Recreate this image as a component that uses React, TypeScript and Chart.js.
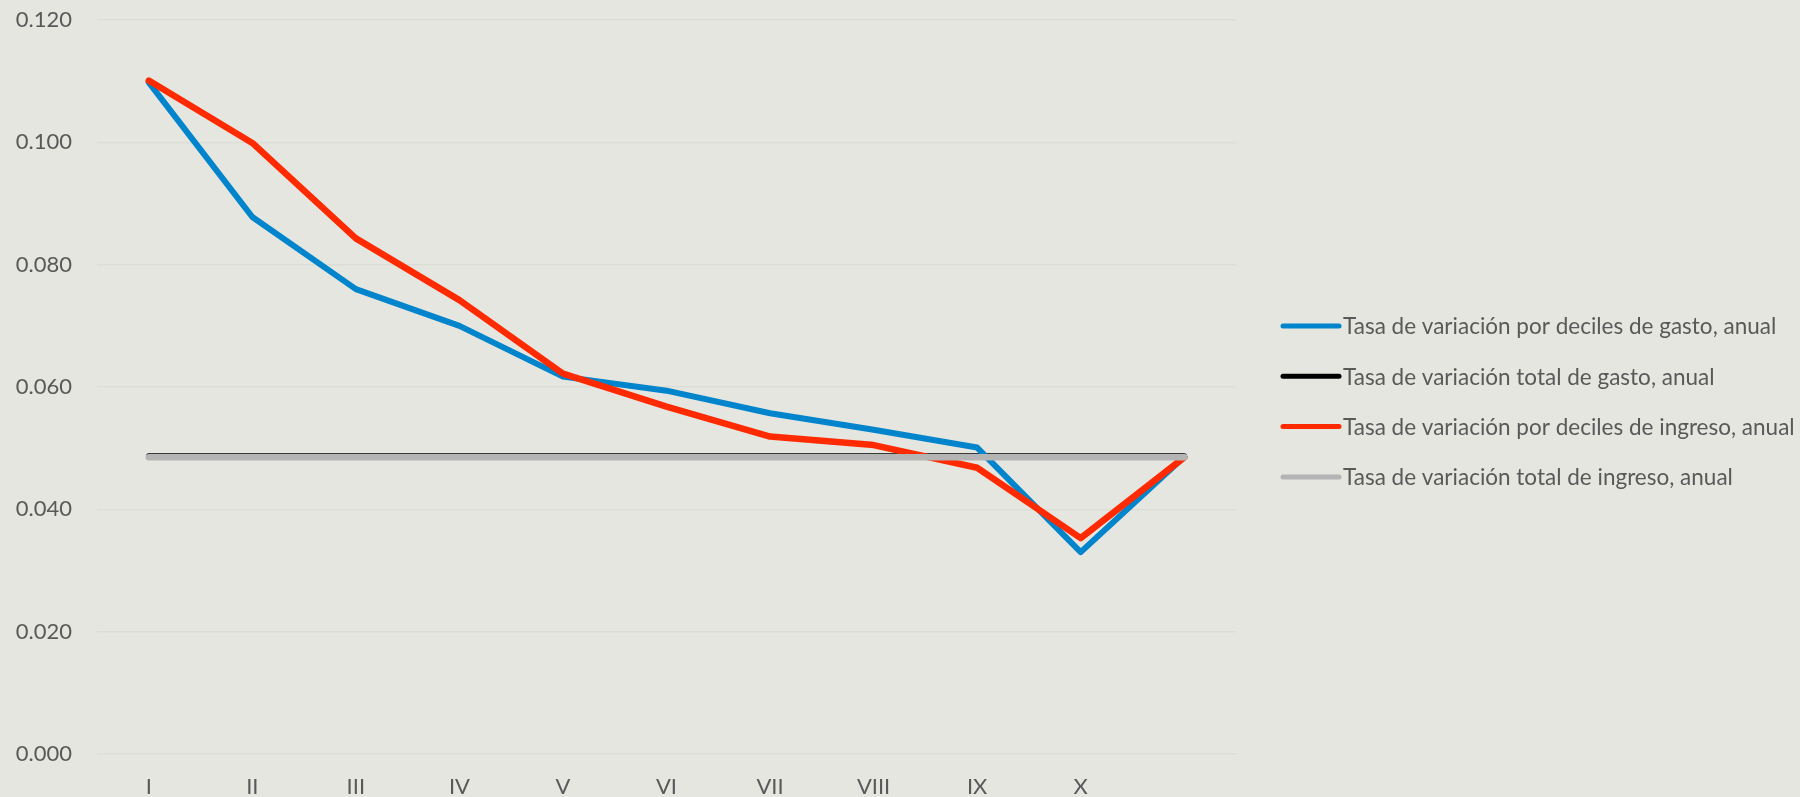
import React, { useEffect, useRef } from "react";
import { Chart, registerables } from "chart.js";

Chart.register(...registerables);

const categories = ["I", "II", "III", "IV", "V", "VI", "VII", "VIII", "IX", "X", ""];

const gastoDeciles = [0.1098, 0.0878, 0.076, 0.07, 0.0617, 0.0594, 0.0557, 0.053, 0.0501, 0.033, 0.0486];
const gastoTotal = [0.0487, 0.0487, 0.0487, 0.0487, 0.0487, 0.0487, 0.0487, 0.0487, 0.0487, 0.0487, 0.0487];
const ingresoDeciles = [0.1101, 0.0999, 0.0843, 0.0742, 0.0622, 0.0568, 0.0519, 0.0505, 0.0468, 0.0353, 0.0485];
const ingresoTotal = [0.0485, 0.0485, 0.0485, 0.0485, 0.0485, 0.0485, 0.0485, 0.0485, 0.0485, 0.0485, 0.0485];

const seriesLabels = [
  "Tasa de variación por deciles de gasto, anual",
  "Tasa de variación total de gasto, anual",
  "Tasa de variación por deciles de ingreso, anual",
  "Tasa de variación total de ingreso, anual",
];

const yMin = 0;
const yMax = 0.12;
const yStep = 0.02;

const BG = "#E5E6E0";
const TEXT = "#595959";
const FONT = "Lato";

const legendPlugin = {
  id: "customLegend",
  afterDraw(chart: any) {
    const ctx = chart.ctx as CanvasRenderingContext2D;
    const area = chart.chartArea;
    const x0 = area.right + 47;
    const x1 = x0 + 56;
    const startY = area.top + 306;
    const gap = 50.3;
    ctx.save();
    chart.data.datasets.forEach((ds: any, i: number) => {
      const y = startY + i * gap;
      ctx.beginPath();
      ctx.strokeStyle = ds.borderColor;
      ctx.lineWidth = 5;
      ctx.lineCap = "round";
      ctx.moveTo(x0, y);
      ctx.lineTo(x1, y);
      ctx.stroke();
      ctx.fillStyle = TEXT;
      ctx.font = `22.5px ${FONT}`;
      ctx.textBaseline = "middle";
      ctx.textAlign = "left";
      ctx.fillText(ds.label, x1 + 4, y + 1);
    });
    ctx.restore();
  },
};

export default function App() {
  const canvasRef = useRef<HTMLCanvasElement | null>(null);

  useEffect(() => {
    if (!canvasRef.current) return;
    const chart = new Chart(canvasRef.current, {
      type: "line",
      data: {
        labels: categories,
        datasets: [
          {
            label: seriesLabels[0],
            data: gastoDeciles,
            borderColor: "#0084CC",
            borderWidth: 6,
            order: 2,
          },
          {
            label: seriesLabels[1],
            data: gastoTotal,
            borderColor: "#000000",
            borderWidth: 5.5,
            order: 3,
          },
          {
            label: seriesLabels[2],
            data: ingresoDeciles,
            borderColor: "#FF2A00",
            borderWidth: 6.5,
            order: 1,
          },
          {
            label: seriesLabels[3],
            data: ingresoTotal,
            borderColor: "#B4B4B4",
            borderWidth: 6.5,
            order: 0,
          },
        ],
      },
      options: {
        animation: false,
        responsive: true,
        maintainAspectRatio: false,
        elements: {
          point: { radius: 0, hoverRadius: 0 },
          line: { tension: 0, borderJoinStyle: "round", borderCapStyle: "round", fill: false },
        },
        layout: { padding: { top: 0, right: 564, left: 0, bottom: 0 } },
        plugins: {
          legend: { display: false },
          tooltip: { enabled: false },
          title: { display: false },
        },
        scales: {
          x: {
            offset: true,
            grid: { display: false, drawTicks: false },
            border: { display: false },
            ticks: {
              color: TEXT,
              font: { family: FONT, size: 22 },
              padding: 20,
              maxRotation: 0,
              autoSkip: false,
            },
            afterFit: (scale: any) => {
              scale.height = 43;
            },
          },
          y: {
            min: yMin,
            max: yMax,
            grid: { color: "#DCDDD7", lineWidth: 1.5, drawTicks: false },
            border: { display: false },
            ticks: {
              stepSize: yStep,
              color: TEXT,
              font: { family: FONT, size: 22 },
              padding: 25,
              callback: (v: any) => Number(v).toFixed(3),
            },
            afterFit: (scale: any) => {
              scale.width = 97;
              scale.paddingTop = 20;
              scale.paddingBottom = 0;
            },
          },
        },
      },
      plugins: [legendPlugin],
    });
    return () => chart.destroy();
  }, []);

  return (
    <div
      style={{
        position: "fixed",
        left: 0,
        top: 0,
        width: 1800,
        height: 797,
        background: BG,
      }}
    >
      <canvas ref={canvasRef} />
    </div>
  );
}
